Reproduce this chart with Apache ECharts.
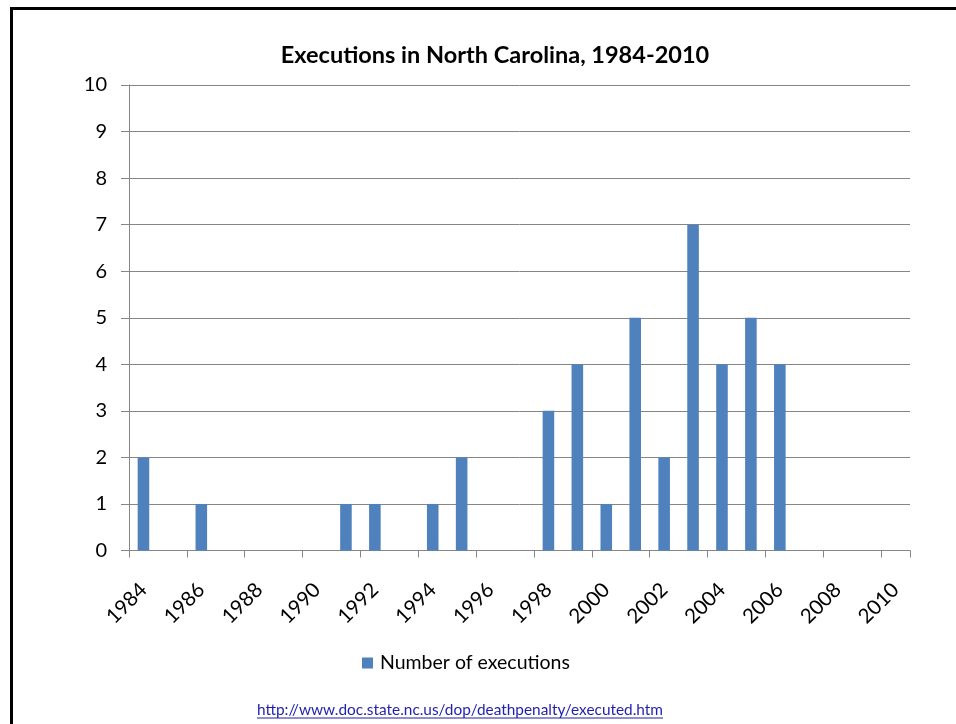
<!DOCTYPE html>
<html>
<head>
<meta charset="utf-8">
<script src="https://cdn.jsdelivr.net/npm/echarts@6/dist/echarts.min.js"></script>
<style>
  html, body { margin: 0; padding: 0; background: #fff; }
  #wrap { position: relative; width: 956px; height: 724px; overflow: hidden; }
  #frame { position: absolute; left: 10px; top: 7px; width: 1000px; height: 800px;
           border-top: 3px solid #000; border-left: 3px solid #000; box-sizing: border-box; }
  #chart { position: absolute; left: 0; top: 0; width: 956px; height: 724px; }
</style>
</head>
<body>
<div id="wrap">
  <div id="frame"></div>
  <div id="chart"></div>
</div>
<script>
const titleText = 'Executions in North Carolina, 1984-2010';
const seriesName = 'Number of executions';
const sourceUrl = 'http://www.doc.state.nc.us/dop/deathpenalty/executed.htm';
const years = ['1984','1985','1986','1987','1988','1989','1990','1991','1992','1993',
               '1994','1995','1996','1997','1998','1999','2000','2001','2002','2003',
               '2004','2005','2006','2007','2008','2009','2010'];
const executions = [2,0,1,0,0,0,0,1,1,0,1,2,0,0,3,4,1,5,2,7,4,5,4,0,0,0,0];
const yTicks = [0,1,2,3,4,5,6,7,8,9,10];

const FONT = 'Lato, "Open Sans", sans-serif';
const chart = echarts.init(document.getElementById('chart'), null, { renderer: 'canvas' });

// measure link width for underline
const cv = document.createElement('canvas').getContext('2d');
const linkFont = '15.4px ' + FONT;
cv.font = linkFont;
const linkW = cv.measureText(sourceUrl).width;
const linkCx = 460;
const linkLeft = linkCx - linkW / 2;

chart.setOption({
  animation: false,
  title: {
    text: titleText,
    left: 490, textAlign: 'center', top: 38,
    textStyle: { fontFamily: FONT, fontWeight: 'bold', fontSize: 23.5, color: '#000' }
  },
  grid: { left: 129, right: 46, top: 85, bottom: 173.5, containLabel: false },
  legend: {
    data: [seriesName],
    left: 357, top: 648,
    icon: 'rect', itemWidth: 11, itemHeight: 11, itemGap: 10,
    textStyle: { fontFamily: FONT, fontSize: 19.5, color: '#000', padding: [0, 0, 0, 2] }
  },
  xAxis: {
    type: 'category',
    data: years,
    boundaryGap: true,
    axisLine: { lineStyle: { color: '#868686', width: 1 } },
    axisTick: { show: true, interval: function (i) { return i % 2 === 0 && i < years.length; },
                length: 7, lineStyle: { color: '#868686' } },
    axisLabel: { interval: 1, rotate: 45, margin: 36, fontFamily: FONT, fontSize: 20.5, color: '#000' },
    splitLine: { show: false }
  },
  yAxis: {
    type: 'value',
    min: yTicks[0], max: yTicks[yTicks.length - 1], interval: 1,
    axisLine: { show: true, lineStyle: { color: '#868686', width: 1 } },
    axisTick: { show: true, length: 8, lineStyle: { color: '#868686' } },
    axisLabel: { margin: 22, fontFamily: FONT, fontSize: 20, color: '#000' },
    splitLine: { show: true, lineStyle: { color: '#868686', width: 1 } }
  },
  series: [{
    name: seriesName,
    type: 'bar',
    data: executions,
    barWidth: '40%',
    itemStyle: { color: '#4F81BD' }
  }],
  graphic: [
    {
      type: 'text', left: linkLeft, top: 703,
      style: { text: sourceUrl, font: linkFont, fill: '#1F1FB0' }
    },
    {
      type: 'line',
      shape: { x1: linkLeft, y1: 718, x2: linkLeft + linkW, y2: 718 },
      style: { stroke: '#1F1FB0', lineWidth: 1 }
    }
  ]
});
</script>
</body>
</html>
